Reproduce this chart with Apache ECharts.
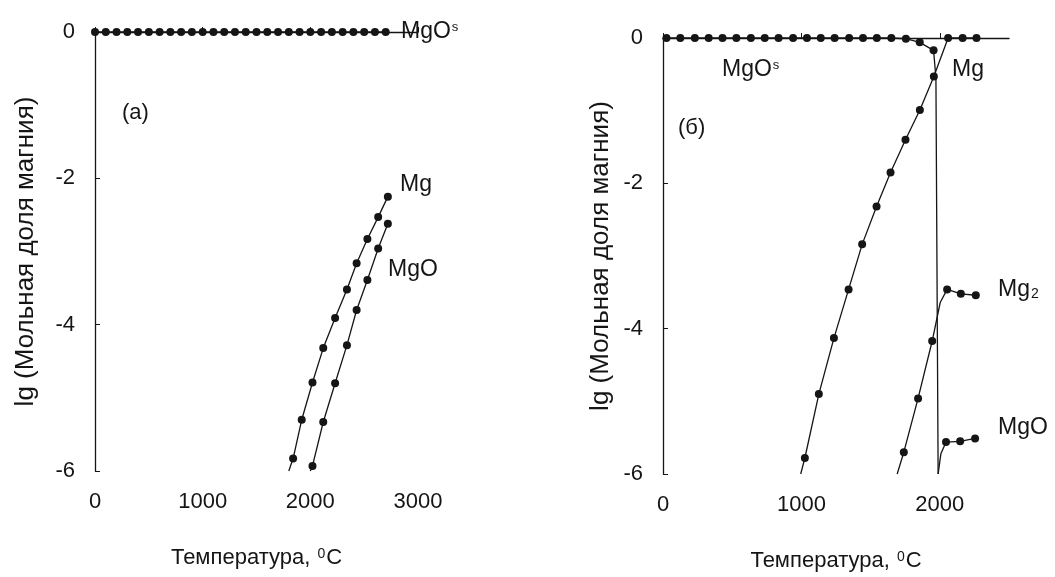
<!DOCTYPE html>
<html>
<head>
<meta charset="utf-8">
<title>lg мольной доли магния</title>
<script src="https://cdn.jsdelivr.net/npm/echarts@6/dist/echarts.min.js"></script>
<style>
  html, body { margin: 0; padding: 0; background: #fff; }
  #chart { width: 1055px; height: 577px; }
</style>
</head>
<body>
<div id="chart"></div>
<script>
// (а) - панель слева
var sA_T = [0, 100, 200, 300, 400, 500, 600, 700, 800, 900, 1000, 1100, 1200, 1300,
  1400, 1500, 1600, 1700, 1800, 1900, 2000, 2100, 2200, 2300, 2400, 2500, 2600, 2700];
var sA_lg = [0, 0, 0, 0, 0, 0, 0, 0, 0, 0, 0, 0, 0, 0,
  0, 0, 0, 0, 0, 0, 0, 0, 0, 0, 0, 0, 0, 0];
var mgA_T = [1800, 1840, 1920, 2020, 2120, 2230, 2340, 2430, 2530, 2630, 2720];
var mgA_lg = [-6, -5.83, -5.3, -4.79, -4.32, -3.91, -3.52, -3.16, -2.83, -2.53, -2.25];
var mgA_plain = [0];
var mgoA_T = [2000, 2020, 2120, 2230, 2340, 2430, 2530, 2630, 2720];
var mgoA_lg = [-6, -5.93, -5.33, -4.8, -4.28, -3.8, -3.39, -2.96, -2.62];
var mgoA_plain = [0];

// (б) - панель справа
var sB_T = [25, 125, 230, 330, 430, 530, 635, 735, 835, 940, 1040, 1140, 1240, 1345,
  1445, 1545, 1650, 1755, 1855, 1955, 1972, 1988];
var sB_lg = [0, 0, 0, 0, 0, 0, 0, 0, 0, 0, 0, 0, 0, 0,
  0, 0, 0, -0.01, -0.06, -0.17, -0.55, -6];
var sB_plain = [20, 21];
var mgB_T = [995, 1025, 1126, 1235, 1341, 1439, 1543, 1644, 1752, 1856, 1957, 2060, 2165, 2265];
var mgB_lg = [-6, -5.78, -4.9, -4.13, -3.46, -2.84, -2.32, -1.85, -1.4, -0.99, -0.53, 0, 0, 0];
var mgB_plain = [0];
var mg2B_T = [1692, 1740, 1843, 1945, 2003, 2053, 2152, 2260];
var mg2B_lg = [-6, -5.7, -4.96, -4.17, -3.64, -3.46, -3.52, -3.54];
var mg2B_plain = [0, 4];
var mgoB_T = [1988, 2008, 2045, 2147, 2255];
var mgoB_lg = [-6, -5.72, -5.56, -5.55, -5.51];
var mgoB_plain = [0, 1];

var xTicksA = [0, 3000, 1000];   // min, max, шаг
var xTicksB = [0, 2500, 1000];
var yTicks = [-6, 0, 2];

var FONT = "'Liberation Sans', Arial, sans-serif";
var INK = '#151515';

function pts(xs, ys, plain) {
  return xs.map(function (x, i) {
    var item = { value: [x, ys[i]] };
    if (plain.indexOf(i) >= 0) item.symbol = 'none';
    return item;
  });
}

function curve(name, idx, xs, ys, plain) {
  return {
    name: name,
    type: 'line',
    xAxisIndex: idx,
    yAxisIndex: idx,
    data: pts(xs, ys, plain),
    symbol: 'circle',
    symbolSize: 8,
    showAllSymbol: true,
    itemStyle: { color: INK },
    lineStyle: { color: INK, width: 1.3 },
    clip: false,
    silent: true,
    z: 3
  };
}

function xAxis(idx, t) {
  return {
    type: 'value',
    gridIndex: idx,
    min: t[0], max: t[1], interval: t[2],
    name: '{n|Температура, }{s|0}{n|C}',
    nameLocation: 'middle',
    nameGap: 76,
    nameTextStyle: {
      rich: {
        n: { fontFamily: FONT, fontSize: 22, color: INK },
        s: { fontFamily: FONT, fontSize: 14, color: INK, verticalAlign: 'top', padding: [0, 1, 8, 1] }
      }
    },
    axisLine: { lineStyle: { color: INK, width: 1.3 } },
    axisTick: { inside: true, length: 5, lineStyle: { color: INK } },
    axisLabel: {
      fontFamily: FONT, fontSize: 22, color: INK, margin: 20,
      showMaxLabel: idx === 0,
      formatter: function (v) { return String(v); }
    },
    splitLine: { show: false }
  };
}

function yAxis(idx, gap) {
  return {
    type: 'value',
    gridIndex: idx,
    min: yTicks[0], max: yTicks[1], interval: yTicks[2],
    name: 'lg (Мольная доля магния)',
    nameLocation: 'middle',
    nameGap: gap,
    nameTextStyle: { fontFamily: FONT, fontSize: 26, color: INK },
    axisLine: { show: true, lineStyle: { color: INK, width: 1.3 } },
    axisTick: { show: true, inside: true, length: 5, lineStyle: { color: INK } },
    axisLabel: { fontFamily: FONT, fontSize: 22, color: INK, margin: 20 },
    splitLine: { show: false }
  };
}

function note(x, y, text, rich) {
  return {
    type: 'text',
    x: x, y: y,
    silent: true,
    style: {
      text: text,
      fill: INK,
      font: '22px ' + FONT,
      verticalAlign: 'middle',
      rich: rich
    }
  };
}

var supS = {
  n: { fontFamily: FONT, fontSize: 23, color: INK },
  s: { fontFamily: FONT, fontSize: 13, color: INK, verticalAlign: 'top', padding: [0, 0, 9, 1] }
};
var subTwo = {
  n: { fontFamily: FONT, fontSize: 23, color: INK },
  s: { fontFamily: FONT, fontSize: 14, color: INK, verticalAlign: 'bottom', padding: [9, 0, 0, 1] }
};

var chart = echarts.init(document.getElementById('chart'));
chart.setOption({
  backgroundColor: '#fff',
  animation: false,
  grid: [
    { left: 95, top: 32, width: 323, height: 439 },
    { left: 663, top: 38, width: 346, height: 438 }
  ],
  xAxis: [xAxis(0, xTicksA), xAxis(1, xTicksB)],
  yAxis: [yAxis(0, 56), yAxis(1, 49)],
  series: [
    curve('MgOs', 0, sA_T, sA_lg, []),
    curve('Mg', 0, mgA_T, mgA_lg, mgA_plain),
    curve('MgO', 0, mgoA_T, mgoA_lg, mgoA_plain),
    curve('MgOs', 1, sB_T, sB_lg, sB_plain),
    curve('Mg', 1, mgB_T, mgB_lg, mgB_plain),
    curve('Mg2', 1, mg2B_T, mg2B_lg, mg2B_plain),
    curve('MgO', 1, mgoB_T, mgoB_lg, mgoB_plain)
  ],
  graphic: [
    note(401, 32, '{n|MgO}{s|s}', supS),
    note(122, 113, '(а)'),
    note(400, 185, '{n|Mg}', supS),
    note(388, 270, '{n|MgO}', supS),
    note(722, 70, '{n|MgO}{s|s}', supS),
    note(952, 70, '{n|Mg}', supS),
    note(678, 128, '(б)'),
    note(998, 290, '{n|Mg}{s|2}', subTwo),
    note(998, 428, '{n|MgO}', supS)
  ]
});
</script>
</body>
</html>
